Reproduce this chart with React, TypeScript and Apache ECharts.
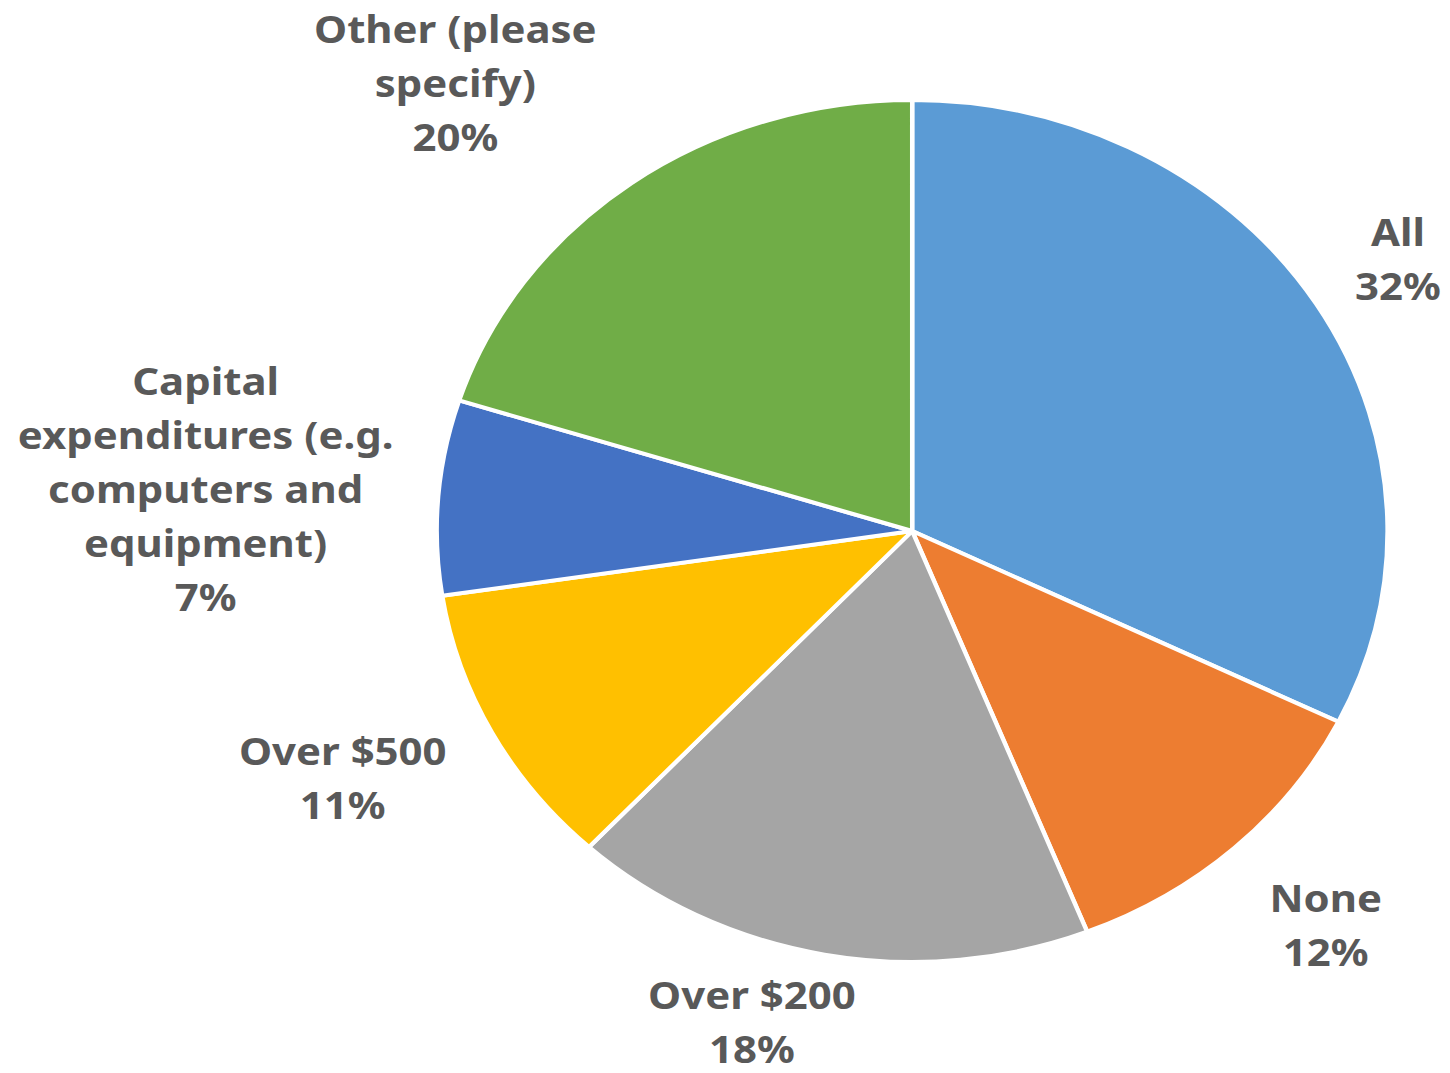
import React, { useEffect, useRef } from "react";
import * as echarts from "echarts";

const categories = ["All", "None", "Over $200", "Over $500", "Capital expenditures (e.g. computers and equipment)", "Other (please specify)"];
const labelTexts = ["All", "None", "Over $200", "Over $500", "Capital\nexpenditures (e.g.\ncomputers and\nequipment)", "Other (please\nspecify)"];
const values = [32.3, 11.7, 17.9, 10.7, 7.3, 20.1];
const colors = ["#5B9BD5", "#ED7D31", "#A5A5A5", "#FFC000", "#4472C4", "#70AD47"];
// label placement (polar, relative to pie centre and slice mid-angle)
const labelDist = [518, 543, 511, 572, 642, 611];
const labelAngleShift = [-0.1, 1.0, -5.9, -2.4, 0.7, 6.5];

const SX = 1.103;
const W = 1450 / SX;
const H = 1073;
const CX = 827;
const CY = 531;
const R = 431;

export default function App() {
  const ref = useRef<HTMLDivElement>(null);
  useEffect(() => {
    if (!ref.current) return;
    const chart = echarts.init(ref.current, null, { renderer: "svg" });
    const total = values.reduce((a, b) => a + b, 0);
    const mids: number[] = [];
    let acc = 0;
    values.forEach((v) => {
      const midFrac = (acc + v / 2) / total;
      mids.push(90 - midFrac * 360);
      acc += v;
    });
    chart.setOption({
      animation: false,
      backgroundColor: "#ffffff",
      series: [
        {
          type: "pie",
          center: [CX, CY],
          radius: R,
          startAngle: 90,
          clockwise: true,
          avoidLabelOverlap: false,
          itemStyle: { borderColor: "#ffffff", borderWidth: 4 },
          emphasis: { disabled: true },
          label: {
            show: true,
            position: "outside",
            formatter: (p: any) => `${labelTexts[p.dataIndex]}\n${Math.round(p.value)}%`,
            fontFamily: "Noto Sans",
            fontWeight: "bold",
            fontSize: 38,
            lineHeight: 54,
            color: "#595959",
            align: "center",
          },
          labelLine: { show: false },
          labelLayout: (p: any) => {
            const i = p.dataIndex;
            const a = ((mids[i] + labelAngleShift[i]) * Math.PI) / 180;
            return {
              x: CX + labelDist[i] * Math.cos(a),
              y: CY - labelDist[i] * Math.sin(a),
              align: "center",
              verticalAlign: "middle",
            };
          },
          data: categories.map((c, i) => ({
            name: c,
            value: values[i],
            itemStyle: { color: colors[i] },
          })),
        },
      ],
    });
    return () => chart.dispose();
  }, []);
  return (
    <div style={{ position: "absolute", left: 0, top: 0, width: 1450, height: H, overflow: "hidden", background: "#fff" }}>
      <div
        ref={ref}
        style={{ width: W, height: H, transform: `scaleX(${SX})`, transformOrigin: "0 0" }}
      />
    </div>
  );
}
